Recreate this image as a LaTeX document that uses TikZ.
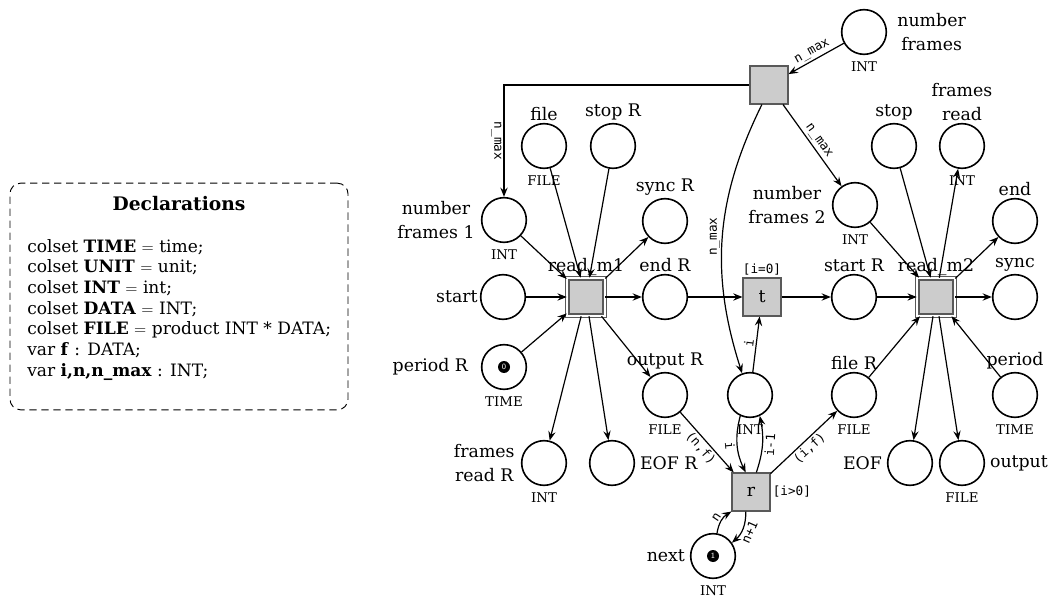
\documentclass[tikz,border=0pt]{standalone}
\usepackage{fontspec}
\setmainfont{DejaVu Serif}
\newfontfamily\monofont{DejaVu Sans Mono}
\usetikzlibrary{arrows.meta}

\newcommand{\labfont}{\fontsize{13}{18}\selectfont}

\tikzset{
  place/.style={circle,draw,line width=1.2pt,minimum size=33.5pt,inner sep=0pt},
  trans/.style={rectangle,draw=black!65,line width=1.3pt,fill=gray!40,minimum size=28pt,inner sep=0pt,font=\labfont},
  subst/.style={trans,double=white,double distance=1.5pt,line width=1.1pt,minimum size=27.8pt},
  token/.style={circle,fill=black,text=white,inner sep=0pt,minimum size=9pt,font=\sffamily\fontsize{6}{6}\selectfont},
  arc/.style={->,line width=0.9pt},
  inscr/.style={font=\monofont\fontsize{9.5}{10}\selectfont,inner sep=1.5pt},
  cset/.style={font=\fontsize{10}{11}\selectfont,inner sep=1pt,yshift=-3.5pt},
  every label/.style={font=\labfont,inner sep=1.5pt}
}

\begin{document}
\begin{tikzpicture}[x=0.75pt,y=-0.75pt,>={Stealth[length=7pt,width=5.5pt,inset=2.5pt]}]
\useasboundingbox (0,0) rectangle (1054,599);

% Declarations
\node[draw,dash pattern=on 5.5pt off 3.5pt,rounded corners=8pt,line width=0.7pt,minimum width=253.5pt,minimum height=170pt] (decl) at (179,296.5) {};
\node[font=\bfseries\fontsize{14}{16}\selectfont] (decltitle) at (179,204) {Declarations};
\node[anchor=north west,align=left,inner sep=0pt,font=\fontsize{12.8}{15.5}\selectfont] (decltext) at (27,239) {%
  colset \textbf{TIME} $=$ time;\\
  colset \textbf{UNIT} $=$ unit;\\
  colset \textbf{INT} $=$ int;\\
  colset \textbf{DATA} $=$ INT;\\
  colset \textbf{FILE} $=$ product INT * DATA;\\
  var \textbf{f} : DATA;\\
  var \textbf{i,n,n\_max} : INT;};

% Places
\node[place,label={[align=center,xshift=6pt]right:number\\frames},label={[cset]below:INT}] (nf) at (864,32) {};
\node[place,label={[align=center,xshift=-3pt]left:number\\frames 1},label={[cset]below:INT}] (nf1) at (504,220) {};
\node[place,label=above:file,label={[cset]below:FILE}] (file) at (544,146) {};
\node[place,label=above:stop R] (stopR) at (613,146) {};
\node[place,label=above:sync R] (syncR) at (665,221) {};
\node[place,label=left:start] (start) at (503,297) {};
\node[place,label=above:end R] (endR) at (665,297) {};
\node[place,label=above:start R] (startR) at (854,297) {};
\node[place,label={[align=center,xshift=-3pt]left:number\\frames 2},label={[cset]below:INT}] (nf2) at (855,205) {};
\node[place,label=above:stop] (stop) at (894,146) {};
\node[place,label={[align=center]above:frames\\read},label={[cset]below:INT}] (fread) at (962,146) {};
\node[place,label=above:end] (end) at (1015,221) {};
\node[place,label=above:sync] (sync) at (1015,297) {};
\node[place,label={[xshift=-8pt]left:period R},label={[cset]below:TIME}] (periodR) at (504,367) {};
\node[place,label=above:output R,label={[cset]below:FILE}] (outR) at (665,395) {};
\node[place,label={[cset]below:INT}] (cnt) at (750,395) {};
\node[place,label=above:file R,label={[cset]below:FILE}] (fileR) at (854,395) {};
\node[place,label=above:period,label={[cset]below:TIME}] (period) at (1015,395) {};
\node[place,label={[align=center,xshift=-3pt]left:frames\\read R},label={[cset]below:INT}] (freadR) at (544,463) {};
\node[place,label={[xshift=2pt]right:EOF R}] (eofR) at (612,463) {};
\node[place,label={[xshift=-2pt]left:EOF}] (eof) at (910,463) {};
\node[place,label={[xshift=2pt]right:output},label={[cset]below:FILE}] (output) at (962,463) {};
\node[place,label={[xshift=-2pt]left:next},label={[cset]below:INT}] (next) at (713,556) {};

% Tokens
\node[token] (tok0) at (periodR) {0};
\node[token] (tok1) at (next) {1};

% Transitions
\node[trans] (tn) at (769,85) {};
\node[subst,label=above:read\_m1] (rm1) at (586,297) {};
\node[subst,label=above:read\_m2] (rm2) at (936,297) {};
\node[trans,label={[inscr]above:[i=0]}] (t) at (762,297) {t};
\node[trans,label={[inscr]right:[i>0]}] (r) at (751,492) {r};

% Arcs of the top transition
\draw[arc] (nf) -- node[inscr,sloped,above] (lnm1) {n\_max} (tn);
\draw[arc] (tn) -| node[inscr,pos=0.75,rotate=-90,anchor=north] (lnm2) {n\_max} (nf1);
\draw[arc] (tn) -- node[inscr,sloped,above] (lnm3) {n\_max} (nf2);
\draw[arc] (tn.-110) to[bend right=22] node[inscr,pos=0.5,rotate=90,anchor=south] (lnm4) {n\_max} (cnt.110);

% read_m1
\foreach \src in {nf1,file,stopR,start,periodR}
  \draw[arc] (\src) -- (rm1);
\foreach \dst in {syncR,endR,outR,freadR,eofR}
  \draw[arc] (rm1) -- (\dst);

% t
\draw[arc] (endR) -- (t);
\draw[arc] (t) -- (startR);
\draw[arc] (cnt) -- node[inscr,sloped,above] (li1) {i} (t);

% r
\draw[arc] (outR) -- node[inscr,sloped,below] (lnf) {(n,f)} (r);
\draw[arc] (cnt.-115) to[bend right=20] node[inscr,sloped,below] (li2) {i} ([xshift=-4pt]r.north);
\draw[arc] ([xshift=4pt]r.north) to[bend right=15] node[inscr,sloped,below] (li3) {i-1} (cnt.-65);
\draw[arc] (r) -- node[inscr,sloped,below] (lif) {(i,f)} (fileR);
\draw[arc] (next.80) to[bend left=25] node[inscr,sloped,above] (ln) {n} (r.south west);
\draw[arc] (r.-105) to[bend left=25] node[inscr,sloped,below] (ln1) {n+1} (next.35);

% read_m2
\foreach \src in {nf2,stop,startR,fileR,period}
  \draw[arc] (\src) -- (rm2);
\foreach \dst in {fread,end,sync,eof,output}
  \draw[arc] (rm2) -- (\dst);

\end{tikzpicture}
\end{document}
